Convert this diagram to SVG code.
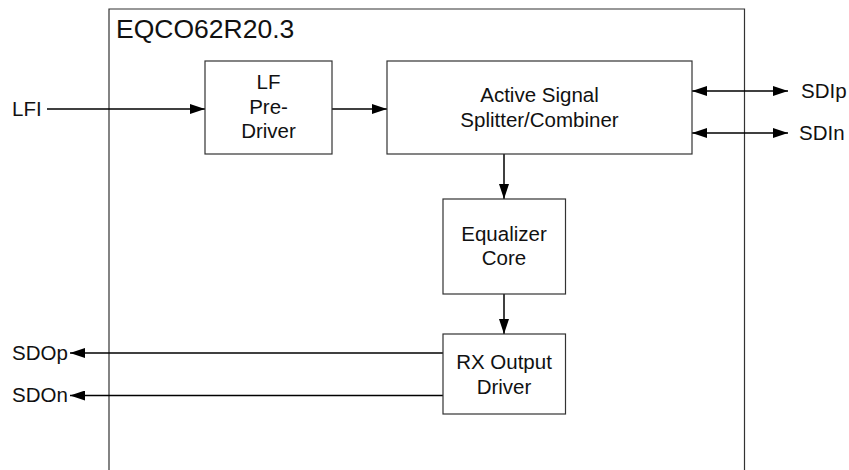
<svg xmlns="http://www.w3.org/2000/svg" width="849" height="470" viewBox="0 0 849 470">
<style>
.box{fill:#fff;stroke:#333;stroke-width:1.2}
.frame{fill:none;stroke:#333;stroke-width:1.2}
.t{font-family:"Liberation Sans",Arial,sans-serif;font-size:20.5px;fill:#111}
.c{text-anchor:middle}
.w{stroke:#000;stroke-width:1.5;fill:none}
</style>
<defs>
<marker id="ah" viewBox="0 0 15 10" refX="15" refY="5" markerWidth="15" markerHeight="10" markerUnits="userSpaceOnUse" orient="auto-start-reverse">
<path d="M0,0 L15,5 L0,10 Z" fill="#000"/>
</marker>
</defs>
<g id="chip">
<path class="frame" d="M109,472 V9 H744.5 V472"/>
<text class="t" x="116" y="38" style="font-size:26.5px">EQCO62R20.3</text>
</g>
<g id="connectors">
<line class="w" x1="47" y1="109" x2="205" y2="109" marker-end="url(#ah)"/>
<line class="w" x1="332" y1="109" x2="387" y2="109" marker-end="url(#ah)"/>
<line class="w" x1="692" y1="91" x2="788" y2="91" marker-start="url(#ah)" marker-end="url(#ah)"/>
<line class="w" x1="692" y1="133" x2="788" y2="133" marker-start="url(#ah)" marker-end="url(#ah)"/>
<line class="w" x1="504" y1="154" x2="504" y2="199" marker-end="url(#ah)"/>
<line class="w" x1="504" y1="294" x2="504" y2="334" marker-end="url(#ah)"/>
<line class="w" x1="443" y1="353" x2="70" y2="353" marker-end="url(#ah)"/>
<line class="w" x1="443" y1="395.5" x2="70" y2="395.5" marker-end="url(#ah)"/>
</g>
<g id="lf_predriver">
<rect class="box" x="205" y="61" width="127" height="93"/>
<text class="t c" x="268.5" y="89">LF</text>
<text class="t c" x="268.5" y="113.5">Pre-</text>
<text class="t c" x="268.5" y="138">Driver</text>
</g>
<g id="splitter">
<rect class="box" x="387" y="61" width="305" height="93"/>
<text class="t c" x="539.5" y="101.5">Active Signal</text>
<text class="t c" x="539.5" y="126.5">Splitter/Combiner</text>
</g>
<g id="equalizer">
<rect class="box" x="443" y="199" width="122.5" height="95"/>
<text class="t c" x="504" y="241">Equalizer</text>
<text class="t c" x="504" y="265">Core</text>
</g>
<g id="rx_driver">
<rect class="box" x="443" y="334" width="122.5" height="80"/>
<text class="t c" x="504" y="369">RX Output</text>
<text class="t c" x="504" y="393.5">Driver</text>
</g>
<g id="labels">
<text class="t" x="12" y="116">LFI</text>
<text class="t" x="801" y="98">SDIp</text>
<text class="t" x="799" y="140">SDIn</text>
<text class="t" x="12" y="360">SDOp</text>
<text class="t" x="12" y="402">SDOn</text>
</g>
</svg>
